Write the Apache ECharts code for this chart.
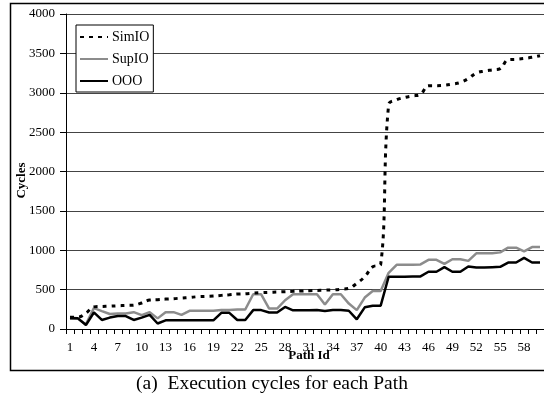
<!DOCTYPE html>
<html>
<head>
<meta charset="utf-8">
<script src="https://cdn.jsdelivr.net/npm/echarts@6/dist/echarts.min.js"></script>
<style>html,body{margin:0;padding:0;background:#fff;}#c{width:544px;height:398px;}</style>
</head>
<body>
<div id="c"></div>
<script>
var pathIds = [];
for (var i = 1; i <= 60; i++) pathIds.push(String(i));

var simIO = [150,150,200,281,286,290,295,299,303,330,368,372,380,385,393,400,410,414,418,427,
             435,444,448,456,461,465,469,474,478,482,486,490,493,497,505,516,580,664,790,820,
             2850,2910,2940,2960,2980,3090,3090,3095,3110,3130,3180,3250,3275,3290,3305,3420,3425,3435,3450,3470];
var supIO = [130,130,60,265,227,190,198,198,214,176,214,135,214,214,180,231,231,231,231,240,
             240,248,248,441,441,260,260,365,441,441,441,441,311,441,441,323,240,399,482,482,
             714,815,815,815,820,878,878,827,886,886,865,961,963,963,973,1033,1033,986,1040,1040];
var ooo = [140,135,50,210,115,145,165,165,115,145,180,70,110,110,110,110,110,110,110,205,
           205,115,115,240,240,210,210,280,237,237,237,240,228,240,240,232,123,275,296,296,
           664,664,664,668,668,727,727,785,727,727,794,781,781,785,789,844,844,903,844,844];

var FONT = 'Liberation Serif';
var chart = echarts.init(document.getElementById('c'), null, {renderer: 'canvas'});
chart.setOption({
  animation: false,
  backgroundColor: '#fff',
  textStyle: {fontFamily: FONT, color: '#000'},
  grid: {left: 66, right: -5, top: 14, bottom: 69},
  legend: {
    orient: 'vertical', left: 76, top: 25,
    padding: [5, 4, 4, 3], itemGap: 8, itemWidth: 28, itemHeight: 14,
    borderColor: '#000', borderWidth: 1, backgroundColor: '#fff',
    itemStyle: {opacity: 0},
    textStyle: {fontFamily: FONT, fontSize: 14, color: '#000', padding: [0,0,0,-1]},
    data: ['SimIO', 'SupIO', 'OOO']
  },
  xAxis: {
    type: 'category', data: pathIds, boundaryGap: true,
    name: 'Path Id', nameLocation: 'middle', nameGap: 20, nameMoveOverlap: false,
    nameTextStyle: {fontFamily: FONT, fontSize: 13, fontWeight: 'bold', color: '#000', padding: [0,0,0,8]},
    axisLine: {lineStyle: {color: '#000', width: 1}},
    axisTick: {show: true, interval: 0, length: 5, lineStyle: {color: '#000'}},
    axisLabel: {interval: 2, fontFamily: FONT, fontSize: 13, color: '#000', margin: 12},
    splitLine: {show: false}
  },
  yAxis: {
    type: 'value', min: 0, max: 4000, interval: 500,
    name: 'Cycles', nameLocation: 'middle', nameGap: 38, nameMoveOverlap: false,
    nameTextStyle: {fontFamily: FONT, fontSize: 13, fontWeight: 'bold', color: '#000', padding: [0,18,0,0]},
    axisLine: {show: true, lineStyle: {color: '#000', width: 1}},
    axisTick: {show: true, length: 6, lineStyle: {color: '#000'}},
    axisLabel: {fontFamily: FONT, fontSize: 13, color: '#000', margin: 11,
                formatter: function (v) { return String(v); }},
    splitLine: {show: true, lineStyle: {color: '#444', width: 1}}
  },
  series: [
    {name: 'SimIO', type: 'line', data: simIO, symbol: 'none', smooth: 0.4, z: 3,
     lineStyle: {color: '#000', width: 3, type: [4, 5], cap: 'butt'}, itemStyle: {color: '#000'}},
    {name: 'SupIO', type: 'line', data: supIO, symbol: 'none', z: 2,
     lineStyle: {color: '#8c8c8c', width: 2.5}, itemStyle: {color: '#8c8c8c'}},
    {name: 'OOO', type: 'line', data: ooo, symbol: 'none', z: 2,
     lineStyle: {color: '#000', width: 2.5}, itemStyle: {color: '#000'}}
  ],
  graphic: [
    {type: 'rect', left: 8, top: 1, z: -1, silent: true,
     shape: {width: 600, height: 367},
     style: {fill: null, stroke: '#000', lineWidth: 1.5}},
    {type: 'text', left: 'center', top: 374,
     style: {text: '(a)  Execution cycles for each Path', font: '19.5px "Liberation Serif"', fill: '#000'}}
  ]
});
</script>
</body>
</html>
